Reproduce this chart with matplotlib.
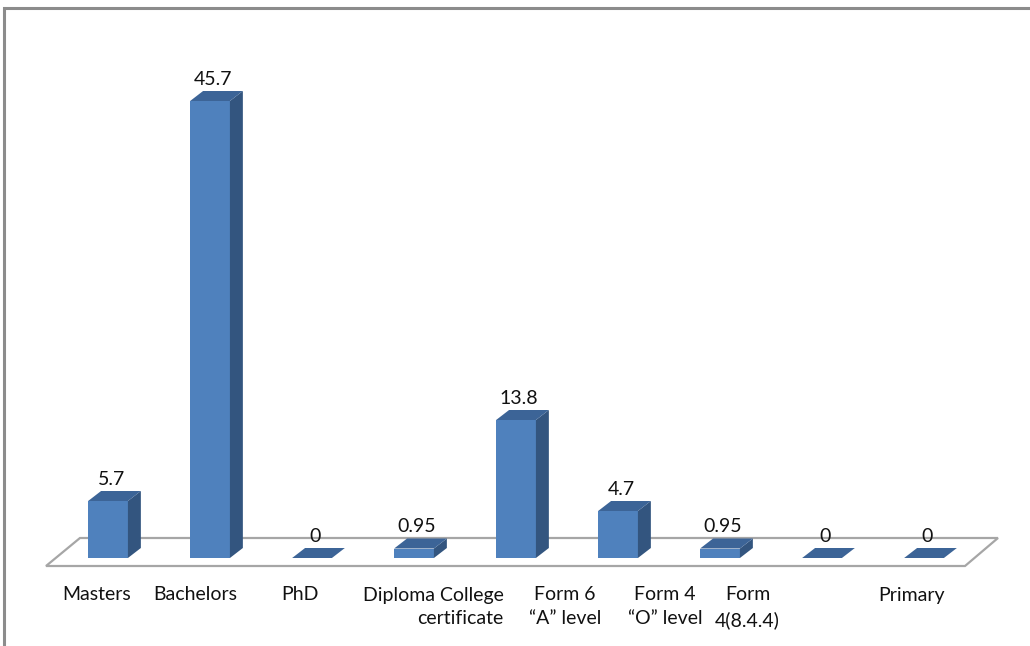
import matplotlib.pyplot as plt
from matplotlib.patches import Polygon, Rectangle

# education level shares (%)
categories = ["Masters", "Bachelors", "PhD", "Diploma College\ncertificate",
              "Form 6\n\u201cA\u201d level", "Form 4\n\u201cO\u201d level",
              "Form\n4(8.4.4)", "", "Primary"]
values = [5.7, 45.7, 0, 0.95, 13.8, 4.7, 0.95, 0, 0]
value_labels = ["5.7", "45.7", "0", "0.95", "13.8", "4.7", "0.95", "0", "0"]

plt.rcParams['font.family'] = ['Lato', 'DejaVu Sans']

FRONT = '#4F81BD'
TOP = '#3C6497'
SIDE = '#33557F'

fig = plt.figure(figsize=(10.30, 6.46), dpi=100)
ax = fig.add_axes([0, 0, 1, 1])
ax.set_xlim(-1.059, 9.039)
ax.set_ylim(-8.8, 55.8)
ax.axis('off')

# outer chart border (only left/top visible)
fig.patches.append(Rectangle((4 / 1030, -0.2), 1.2, 1.2 - 8 / 646, transform=fig.transFigure,
                             fill=False, edgecolor='#8C8C8C', lw=2.2))

# floor of the 3D plot
floor = Polygon([(-0.608, -0.8), (8.402, -0.8), (8.725, 2.0), (-0.275, 2.0)],
                closed=True, facecolor='white', edgecolor='#A6A6A6', lw=1.6, zorder=1)
ax.add_patch(floor)

w = 0.39     # bar width
dx = 0.127   # depth shift in x
dy = 1.0     # depth shift in y

for i, v in enumerate(values):
    x0, x1 = i - w / 2, i + w / 2
    if v > 0:
        ax.add_patch(Polygon([(x0, 0), (x1, 0), (x1, v), (x0, v)],
                             facecolor=FRONT, edgecolor='none', zorder=3))
        ax.add_patch(Polygon([(x1, 0), (x1 + dx, dy), (x1 + dx, v + dy), (x1, v)],
                             facecolor=SIDE, edgecolor='none', zorder=3))
    ax.add_patch(Polygon([(x0, v), (x1, v), (x1 + dx, v + dy), (x0 + dx, v + dy)],
                         facecolor=TOP, edgecolor='none', zorder=3))
    ax.text(i + 0.03, v + dy + 0.3, value_labels[i], ha='center', va='bottom',
            fontsize=14, color='#111111', zorder=4)

# category labels under the floor front edge
label_shift = [-0.11, -0.14, -0.12, 0.88, 0.48, 0.46, 0.27, 0, -0.12]
for i, lab in enumerate(categories):
    ha = 'right' if i == 3 else 'center'
    ax.text(i + label_shift[i], -2.85, lab, ha=ha, va='top', multialignment=ha,
            fontsize=14, color='#111111', linespacing=1.5)

fig.savefig('out.png', dpi=100)
